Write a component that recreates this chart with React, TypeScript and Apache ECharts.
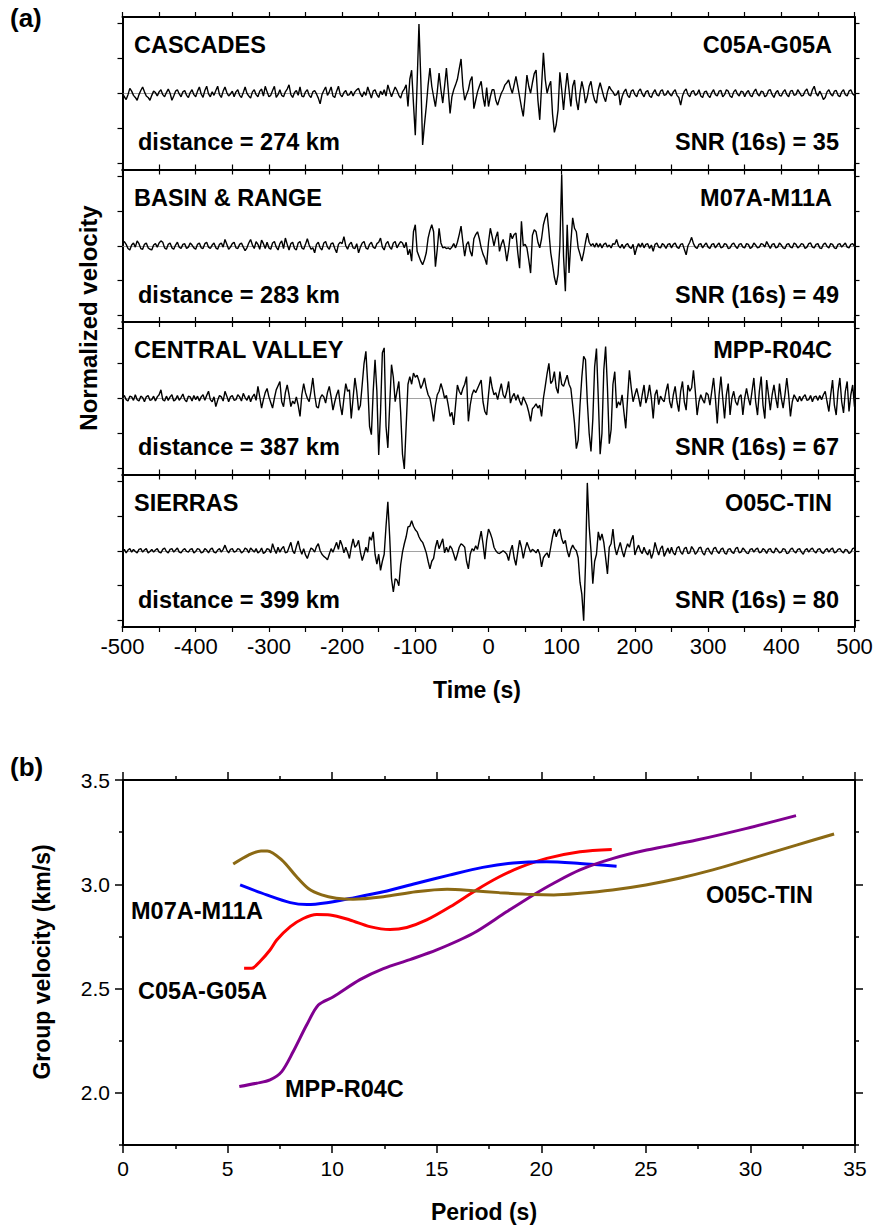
import React, { useEffect, useRef } from "react";
import * as echarts from "echarts";

// ---------- Panel (a): normalized velocity waveforms, sampled every 2.5 s from -500 s (values in hundredths) ----------
const SAMPLE_STEP = 2.5;
const T_START = -500;

const cascades = [
  0, -5, -9, -2, 7, 3, -3, -6, -10, -2, 4, 9, 2, -4, -6, -10, -3, 3, 1, -4,
  2, 5, -2, -5, 1, 6, 0, -10, -4, 3, 5, -1, -5, 2, 4, -3, -6, 1, 5, -2,
  -5, 3, 9, -1, -6, 4, 10, -1, -5, 2, -3, 4, 10, -2, -6, 3, 9, 1, -4, -1,
  3, -5, 2, 5, -3, -6, 1, 9, 0, -4, -7, 2, 5, -2, -5, 3, 6, -4, 10, 2,
  -5, -3, 4, 10, -6, -2, 5, -3, -5, 2, 6, 12, -2, -6, 1, 4, -3, 9, -4, -5,
  2, 5, -3, -6, 2, 4, -1, -7, -15, -2, 4, 9, -3, 2, 9, -4, -6, 3, 10, -2,
  -5, 1, 4, -3, -2, 3, -4, 2, 5, 7, -1, -5, 2, -3, 9, 1, -7, 3, 5, -2,
  -6, 3, -2, 5, -4, 12, 3, -5, 2, 9, 4, -3, -7, 2, 6, 12, -19, 20, 33, -15,
  -60, 15, 99, 20, -74, -45, -19, 12, 36, 10, -5, -19, 2, 29, 5, -14, 10, 36, 5, -29,
  -5, 5, 12, 20, 35, 49, 10, -10, -2, 5, 18, 24, -22, -10, 2, 10, 17, -5, -19, 8,
  -19, -5, 5, 5, -10, -17, -8, 0, 5, 12, 15, 19, 8, 0, 12, 24, 10, -5, -20, -33,
  -5, 26, 10, 0, 15, 28, 33, -10, -38, 10, 58, 20, 0, 10, 17, -30, -56, -45, -24, 30,
  5, -24, 5, 29, 5, -19, 10, 19, -10, -24, 0, 17, 5, -14, -5, 10, 17, 0, -10, -14,
  5, 15, 5, -5, -12, 2, 10, 5, 2, -3, -2, 4, -17, -5, 2, 6, -3, -6, 3, 5,
  -2, -5, 3, 6, -1, -5, 2, 4, -4, -6, 1, 5, -2, -4, 3, 5, -3, -2, 4, -1,
  -4, 2, 5, -3, -6, -17, -4, 3, 6, -2, -5, 2, 4, -3, -1, 5, -4, -6, 2, 3,
  -3, -6, 1, 5, -2, -4, 3, 4, -5, -2, 5, 3, -4, -6, 2, 5, -1, -4, 3, 2,
  -5, 1, 4, -3, -5, 2, 6, -1, -4, 3, 2, -5, -3, 4, 5, -2, -6, 1, 4, -3,
  -4, 2, 5, -2, -5, 3, 4, -3, -2, 5, 1, -4, -3, 3, 6, -2, -4, 5, 10, 0,
  -4, 3, -2, -9, -6, 2, 5, -1, -4, 3, 4, -3, -5, 2, 5, -2, -4, 3, 5, -1,
  -3,
];

const basinRange = [
  3, 6, 2, -4, -6, 1, 4, -2, 7, 3, -4, -5, 2, 4, -3, -5, -6, 1, 3, -2,
  4, 7, 5, -3, -5, 2, 4, -3, -5, 1, 5, -2, -4, 2, 3, -4, -2, 4, 1, -3,
  -5, 2, 4, -3, -4, 3, 5, -2, -4, 1, 4, -3, -5, 2, 4, -2, 9, 2, -5, -2,
  3, 5, -3, -4, 2, 4, -2, -7, -3, 4, 9, 1, -4, 6, 2, -5, 8, 3, -4, 5,
  -3, -5, 4, 6, -2, -6, 3, 7, -4, 11, 2, -6, 3, 5, -4, -6, 4, 6, -3, -5,
  2, 10, 1, -5, -3, -10, 2, 5, -3, -6, 4, 6, -2, -5, 3, 4, -4, -10, 2, 5,
  3, 13, 0, -5, 2, 5, -3, -4, 3, -10, -2, 4, 6, -3, -5, 2, 5, -2, -4, 3,
  5, 11, -2, -6, 3, 6, -2, -5, 4, 6, -3, 2, 6, 4, -3, 5, -13, -5, -22, 20,
  30, -8, -15, -22, -27, -20, -10, 11, 22, 30, 20, -30, -5, 25, 4, -3, -2, -4, -3, -5,
  -2, 3, -3, 5, 16, 28, 5, -15, 2, 6, -8, -15, 10, 16, 20, 10, -3, -12, -18, -27,
  5, 25, 13, 0, 12, 20, -8, 2, 9, -3, -22, -5, 18, 10, 16, 18, -10, -32, 35, 0,
  2, -3, -20, -39, 15, 23, 20, 5, -3, 10, 30, 40, 47, 20, -10, -27, -45, -56, -41, 0,
  102, -15, -65, 30, -39, 5, 40, 25, 20, -3, -12, -22, -10, 5, 18, 5, 0, 3, -2, 4,
  -2, 3, -3, 2, 4, -2, 1, -3, 3, 2, 9, 0, -3, 2, -4, 1, 3, -2, -4, 2,
  -13, -3, 3, -2, 4, -3, 2, 3, -4, 1, -8, 2, 4, -2, -3, 3, 1, -4, 2, 3,
  -3, 2, 4, -2, -4, 2, 3, -5, -13, 0, 5, 12, 3, -2, -4, 2, 3, -3, 1, 4,
  -2, -4, 2, 3, -3, 1, 4, -3, -2, 3, 2, -4, -3, 2, 4, -1, -4, 2, 3, -2,
  -3, 3, 2, -4, -2, 4, 1, -3, -2, 3, 2, -2, 6, 1, -4, 2, 3, -3, -2, 4,
  1, -3, -4, 2, 3, -2, -3, 4, 2, -3, -1, 3, 2, -4, -2, 3, 4, -2, -3, 2,
  3, -3, -4, 2, 4, -1, -3, 3, 2, -3, -4, 2, 3, -2, 1, 4, -2, -3, 2, 3,
  -1,
];

const centralValley = [
  0, 4, -2, -4, 3, 2, -3, 5, -2, -4, 3, 1, -5, 2, 4, -3, -2, 3, -4, 2,
  5, 12, -2, -4, 3, -3, 2, 5, -4, -2, 4, -3, 1, 6, -2, -5, 3, 2, -4, 4,
  -2, 3, -4, 2, 5, -3, 4, 10, -2, -5, 2, -12, -3, 4, 2, -4, 10, 3, -5, 2,
  4, -3, -2, 5, 2, -4, 7, 1, -3, 4, -5, 2, 6, -3, 17, 2, -14, -2, 8, 14,
  2, -6, -14, 0, 12, 18, 24, -5, -12, 8, 19, 5, -12, -4, -8, 2, -10, -26, 5, 21,
  8, 0, -5, 10, 29, 5, -12, -14, 0, 5, 2, -7, 8, 17, 2, -17, -5, 5, 12, -10,
  -24, 0, 21, 10, 12, -29, 0, 29, 10, -17, -10, 20, 50, 67, 20, -40, -52, 10, 55, 10,
  -81, -20, 65, 72, -40, -71, -10, 48, 30, -5, 10, 24, -20, -80, -101, -40, 20, 31, 20, 36,
  30, 33, 25, 14, 20, 29, 15, 5, 0, -15, -33, -10, 5, 10, 21, 12, 0, 4, -10, -26,
  -20, -38, -10, 19, 10, 5, 14, 20, 31, -33, -10, 5, 12, 8, 14, 20, 26, -5, -19, -24,
  5, 31, 15, 5, 8, -2, 10, 21, 5, 0, 10, 24, -7, 2, 7, -3, 5, -4, -10, 2,
  -4, -10, -20, -33, -15, -12, -8, -14, -10, -26, 0, 17, 35, 50, 21, 25, 38, 15, 7, 38,
  20, 17, 25, 33, 20, 14, -10, -36, -72, -60, -10, 30, 60, 55, -5, -50, -76, -30, 45, 71,
  0, -80, -50, 40, 74, 15, -65, -45, 20, 38, -14, -5, -10, 5, -20, -43, 0, 40, 15, -5,
  5, 14, 2, -12, 5, 19, -7, 3, 19, 0, -29, 5, 12, -9, 3, -2, -5, 10, 21, -5,
  -14, 5, 17, -5, -19, 10, 24, -5, -17, 19, 10, 15, 40, 10, -24, -5, 5, -2, -7, 8,
  5, -10, 10, 29, 0, -36, 5, 31, 0, -29, 5, 21, -24, 0, 10, -5, -10, 2, 5, -24,
  0, 14, 0, -10, 10, 29, -5, -24, 10, 31, -10, -29, 26, 5, -17, 5, 19, 0, -14, 21,
  0, -14, 5, 29, 5, -26, -5, 5, 0, -5, 3, -4, 2, 5, -3, -2, 4, -5, 2, 3,
  -3, 4, -2, 5, 10, -5, -19, 5, 26, -10, -24, 10, 29, -5, -21, 10, 24, -19, 5, 19,
  -12,
];

const sierras = [
  -2, 2, -3, 1, 3, -2, 2, -1, -3, 2, 3, -2, 1, 3, -3, -1, 2, -2, 1, 3,
  -2, -3, 2, 4, -1, -3, 2, 3, -2, 1, 4, -2, -3, 1, 3, -1, -2, 2, 3, -3,
  -1, 3, 2, -3, -2, 3, 1, -3, 2, 4, -2, -3, 1, 3, -2, 2, 8, 1, -3, 2,
  3, -2, -1, 3, 2, -3, -1, 4, 2, -3, 4, 1, -2, 3, -3, -1, 4, -4, -2, 3,
  2, -3, 10, 2, -4, 5, -2, 3, 6, -3, -2, 5, 12, 0, -4, 6, 14, 2, -5, 3,
  -6, -11, -3, 4, 2, -2, 6, 10, 0, -5, -8, -10, -13, -5, 3, -2, 5, 12, 2, 15,
  8, -3, 5, -2, -11, 5, 17, 5, 8, 15, -2, -14, -5, 5, -2, 20, 15, 27, -5, -19,
  -5, -28, -15, -5, 35, 70, 20, -40, -59, -40, -42, -50, -20, -2, 10, 20, 34, 35, 43, 35,
  30, 27, 20, 15, 12, 5, -3, -15, -26, -15, -11, 5, 15, 3, 10, 17, -3, 5, -2, 7,
  3, -5, -14, -5, 5, 10, 8, 5, -15, -26, -5, 3, 0, 7, 2, 15, 28, 10, -12, 15,
  31, 25, 17, 5, 0, -3, -4, -2, 0, -2, -5, -14, 0, 8, -10, -21, -2, 15, 5, -11,
  2, 12, 5, -2, 2, 0, -3, 2, -5, -23, -10, -6, -3, -10, 5, 20, 31, 20, 28, 31,
  17, 10, 15, 0, -9, 2, 8, 3, 0, -10, -45, -62, -100, -20, 97, 35, 0, -47, -15, -5,
  27, 15, 24, 12, -10, -33, 5, 10, 31, 5, -6, 3, 12, 0, -9, 2, 10, 5, 15, 22,
  -6, 2, 8, 0, -4, 5, -2, -6, 2, -11, -3, 12, 2, -6, 3, 7, -8, -2, 4, -4,
  5, -3, -6, 4, 6, -2, -5, 3, 5, -4, -3, 6, 2, -5, -2, 4, 5, -3, -6, 2,
  4, -2, -5, 3, 5, -1, -4, 2, 4, -3, -5, 2, 3, -2, -4, 3, 5, -3, -2, 4,
  1, -3, -4, 2, 3, -2, 2, 4, -3, -2, 3, 1, -4, 2, 3, -2, -3, 4, 1, -3,
  -2, 3, 2, -4, -3, 2, 4, -1, -3, 2, 3, -2, -5, 1, 3, -2, 2, 4, -1, -3,
  2, 3, -2, -4, 1, 3, -2, 2, 4, -3, -2, 2, 3, -1, -3, 2, 1, -4, -2, 3,
  4,
];

const regionNames = ["CASCADES", "BASIN & RANGE", "CENTRAL VALLEY", "SIERRAS"];
const stationPairs = ["C05A-G05A", "M07A-M11A", "MPP-R04C", "O05C-TIN"];
const distancesKm = [274, 283, 387, 399];
const snr16s = [35, 49, 67, 80];
const traceTicks = [-1, -0.5, 0, 0.5, 1];

// ---------- Panel (b): group velocity dispersion curves ----------
const c05Period = [5.79, 6.15, 6.55, 7.03, 7.35, 8.0, 8.62, 9.26, 9.9, 10.85, 11.8, 12.77, 13.57, 14.52, 15.64, 16.9, 18.0, 18.98, 20.26, 21.85, 23.37];
const c05Vel = [2.597, 2.597, 2.63, 2.685, 2.733, 2.797, 2.836, 2.855, 2.853, 2.829, 2.797, 2.783, 2.793, 2.829, 2.892, 2.973, 3.036, 3.081, 3.124, 3.156, 3.167];

const m07Period = [5.6, 6.87, 8.0, 8.8, 9.75, 10.85, 12.45, 14.0, 15.6, 17.2, 18.66, 20.26, 21.85, 23.6];
const m07Vel = [2.997, 2.949, 2.912, 2.903, 2.912, 2.932, 2.964, 3.004, 3.044, 3.081, 3.102, 3.108, 3.1, 3.087];

const mppPeriod = [5.56, 6.39, 7.03, 7.59, 8.14, 8.78, 9.34, 10.06, 11.33, 12.45, 13.72, 15.0, 16.75, 18.34, 19.62, 20.57, 21.85, 23.44, 25.04, 27.43, 29.82, 32.18];
const mppVel = [2.03, 2.046, 2.062, 2.102, 2.198, 2.325, 2.421, 2.461, 2.543, 2.596, 2.639, 2.685, 2.765, 2.868, 2.949, 3.004, 3.069, 3.124, 3.164, 3.212, 3.268, 3.329];

const o05Period = [5.27, 6.0, 6.6, 6.9, 7.6, 8.3, 8.86, 9.5, 10.2, 11.0, 12.45, 14.0, 15.5, 16.75, 18.0, 19.6, 20.6, 21.85, 23.4, 25.0, 26.6, 28.2, 29.8, 31.4, 32.2, 34.0];
const o05Vel = [3.097, 3.14, 3.16, 3.16, 3.116, 3.036, 2.98, 2.949, 2.933, 2.928, 2.94, 2.964, 2.976, 2.969, 2.96, 2.951, 2.949, 2.957, 2.973, 2.997, 3.029, 3.069, 3.116, 3.164, 3.188, 3.241];

const velMajorTicks = [2.0, 2.5, 3.0, 3.5];
const velMinorTicks = [1.75, 2.25, 2.75, 3.25];

// ---------- layout ----------
const FONT = "Liberation Sans";
const A_LEFT = 122.5;
const A_WIDTH = 732;
const A_TOPS = [17, 169.5, 322, 474.5];
const A_HEIGHT = 152.5;
const B_GRID = { left: 123, top: 780, width: 732, height: 365 };
const LABEL_SIZE = 23.5;

const frameLine = { show: true, onZero: false, lineStyle: { color: "#000", width: 2 } };

function App() {
  const ref = useRef<HTMLDivElement>(null);

  useEffect(() => {
    if (!ref.current) return;
    const chart = echarts.init(ref.current, undefined, { renderer: "svg" });

    const traces = [cascades, basinRange, centralValley, sierras];
    const grids: any[] = [];
    const xAxes: any[] = [];
    const yAxes: any[] = [];
    const series: any[] = [];
    const graphics: any[] = [];

    const txt = (text: string, x: number, y: number, align: string, size = LABEL_SIZE, weight = "bold", rotation = 0) => ({
      type: "text",
      x,
      y,
      rotation,
      silent: true,
      style: {
        text,
        fill: "#000",
        fontSize: size,
        fontWeight: weight,
        fontFamily: FONT,
        align,
        verticalAlign: "middle",
        textAlign: align,
        textVerticalAlign: "middle",
      },
    });

    A_TOPS.forEach((top, k) => {
      grids.push({ left: A_LEFT, top, width: A_WIDTH, height: A_HEIGHT });
      const isLast = k === A_TOPS.length - 1;
      const xBase = {
        type: "value",
        gridIndex: k,
        min: -500,
        max: 500,
        interval: 50,
        axisLine: frameLine,
        axisTick: { show: true, inside: false, length: 5, lineStyle: { color: "#000", width: 1.2 } },
        splitLine: { show: false },
      };
      xAxes.push({
        ...xBase,
        position: "bottom",
        axisLabel: isLast
          ? {
              show: true,
              color: "#000",
              fontSize: 22,
              fontFamily: FONT,
              margin: 8,
              hideOverlap: false,
              formatter: (v: number) => (Math.round(v) % 100 === 0 ? String(Math.round(v)) : ""),
            }
          : { show: false },
      });
      xAxes.push({ ...xBase, position: "top", axisLabel: { show: false } });
      const yBase = {
        type: "value",
        gridIndex: k,
        min: -1.09,
        max: 1.09,
        axisLine: frameLine,
        axisTick: { show: true, inside: false, length: 5, customValues: traceTicks, lineStyle: { color: "#000", width: 1.2 } },
        axisLabel: { show: false },
        splitLine: { show: false },
      };
      yAxes.push({ ...yBase, position: "left" });
      yAxes.push({ ...yBase, position: "right" });

      series.push({
        type: "line",
        xAxisIndex: 2 * k,
        yAxisIndex: 2 * k,
        data: traces[k].map((v, i) => [T_START + i * SAMPLE_STEP, v / 100]),
        showSymbol: false,
        symbol: "none",
        lineStyle: { color: "#000", width: 1.4 },
        silent: true,
        z: 3,
        markLine: {
          silent: true,
          symbol: ["none", "none"],
          label: { show: false },
          lineStyle: { color: "#8a8a8a", width: 0.8, type: "solid" },
          data: [{ yAxis: 0 }],
          z: 2,
        },
      });

      graphics.push(txt(regionNames[k], 134, top + 28, "left"));
      graphics.push(txt(stationPairs[k], 832, top + 28, "right"));
      graphics.push(txt(`distance = ${distancesKm[k]} km`, 138, top + 125, "left"));
      graphics.push(txt(`SNR (16s) = ${snr16s[k]}`, 839, top + 125, "right"));
    });

    // Panel (b) grids: main + overlay for minor velocity ticks
    grids.push({ ...B_GRID });
    grids.push({ ...B_GRID });
    const bx = {
      type: "value",
      gridIndex: 4,
      min: 0,
      max: 35,
      interval: 5,
      axisLine: frameLine,
      axisTick: { show: true, inside: false, length: 8, lineStyle: { color: "#000", width: 1.5 } },
      minorTick: { show: true, splitNumber: 2, length: 4, lineStyle: { color: "#000", width: 1.5 } },
      splitLine: { show: false },
    };
    xAxes.push({
      ...bx,
      position: "bottom",
      axisLabel: { show: true, color: "#000", fontSize: 21, fontFamily: FONT, margin: 13 },
    });
    xAxes.push({ ...bx, position: "top", axisLabel: { show: false } });
    xAxes.push({ type: "value", gridIndex: 5, min: 0, max: 35, show: false });

    const by = {
      type: "value",
      gridIndex: 4,
      min: 1.75,
      max: 3.5,
      axisLine: frameLine,
      axisTick: { show: true, inside: false, length: 8, customValues: velMajorTicks, lineStyle: { color: "#000", width: 1.5 } },
      splitLine: { show: false },
    };
    yAxes.push({
      ...by,
      position: "left",
      axisLabel: {
        show: true,
        customValues: velMajorTicks,
        color: "#000",
        fontSize: 21,
        fontFamily: FONT,
        margin: 13,
        formatter: (v: number) => v.toFixed(1),
      },
    });
    yAxes.push({ ...by, position: "right", axisLabel: { show: false } });
    const byMinor = {
      type: "value",
      gridIndex: 5,
      min: 1.75,
      max: 3.5,
      axisLine: { show: false, onZero: false },
      axisTick: { show: true, inside: false, length: 4, customValues: velMinorTicks, lineStyle: { color: "#000", width: 1.5 } },
      axisLabel: { show: false },
      splitLine: { show: false },
    };
    yAxes.push({ ...byMinor, position: "left" });
    yAxes.push({ ...byMinor, position: "right" });

    const curves = [
      { name: "C05A-G05A", p: c05Period, v: c05Vel, color: "#ff0000" },
      { name: "M07A-M11A", p: m07Period, v: m07Vel, color: "#0000ff" },
      { name: "MPP-R04C", p: mppPeriod, v: mppVel, color: "#800090" },
      { name: "O05C-TIN", p: o05Period, v: o05Vel, color: "#8b6914" },
    ];
    curves.forEach((c) => {
      series.push({
        type: "line",
        name: c.name,
        xAxisIndex: 8,
        yAxisIndex: 8,
        data: c.p.map((x, i) => [x, c.v[i]]),
        showSymbol: false,
        symbol: "none",
        smooth: 0.3,
        lineStyle: { color: c.color, width: 3 },
        silent: true,
      });
    });

    graphics.push(txt("M07A-M11A", 131, 911, "left"));
    graphics.push(txt("C05A-G05A", 138, 991, "left"));
    graphics.push(txt("MPP-R04C", 285, 1089, "left"));
    graphics.push(txt("O05C-TIN", 706, 895, "left"));

    // panel letters and axis titles
    graphics.push(txt("(a)", 10, 18, "left", 26));
    graphics.push(txt("(b)", 10, 767, "left", 26));
    graphics.push(txt("Normalized velocity", 88, 318, "center", 24, "bold", Math.PI / 2));
    graphics.push(txt("Time (s)", 477, 690, "center", 23));
    graphics.push(txt("Group velocity (km/s)", 42, 962, "center", 23, "bold", Math.PI / 2));
    graphics.push(txt("Period (s)", 484, 1212, "center", 23));

    chart.setOption({
      animation: false,
      backgroundColor: "#fff",
      textStyle: { fontFamily: FONT },
      grid: grids,
      xAxis: xAxes,
      yAxis: yAxes,
      series,
      graphic: { elements: graphics },
    });

    return () => chart.dispose();
  }, []);

  return (
    <div
      ref={ref}
      style={{ position: "absolute", left: 0, top: 0, width: 877, height: 1226, background: "#fff" }}
    />
  );
}

export default App;
